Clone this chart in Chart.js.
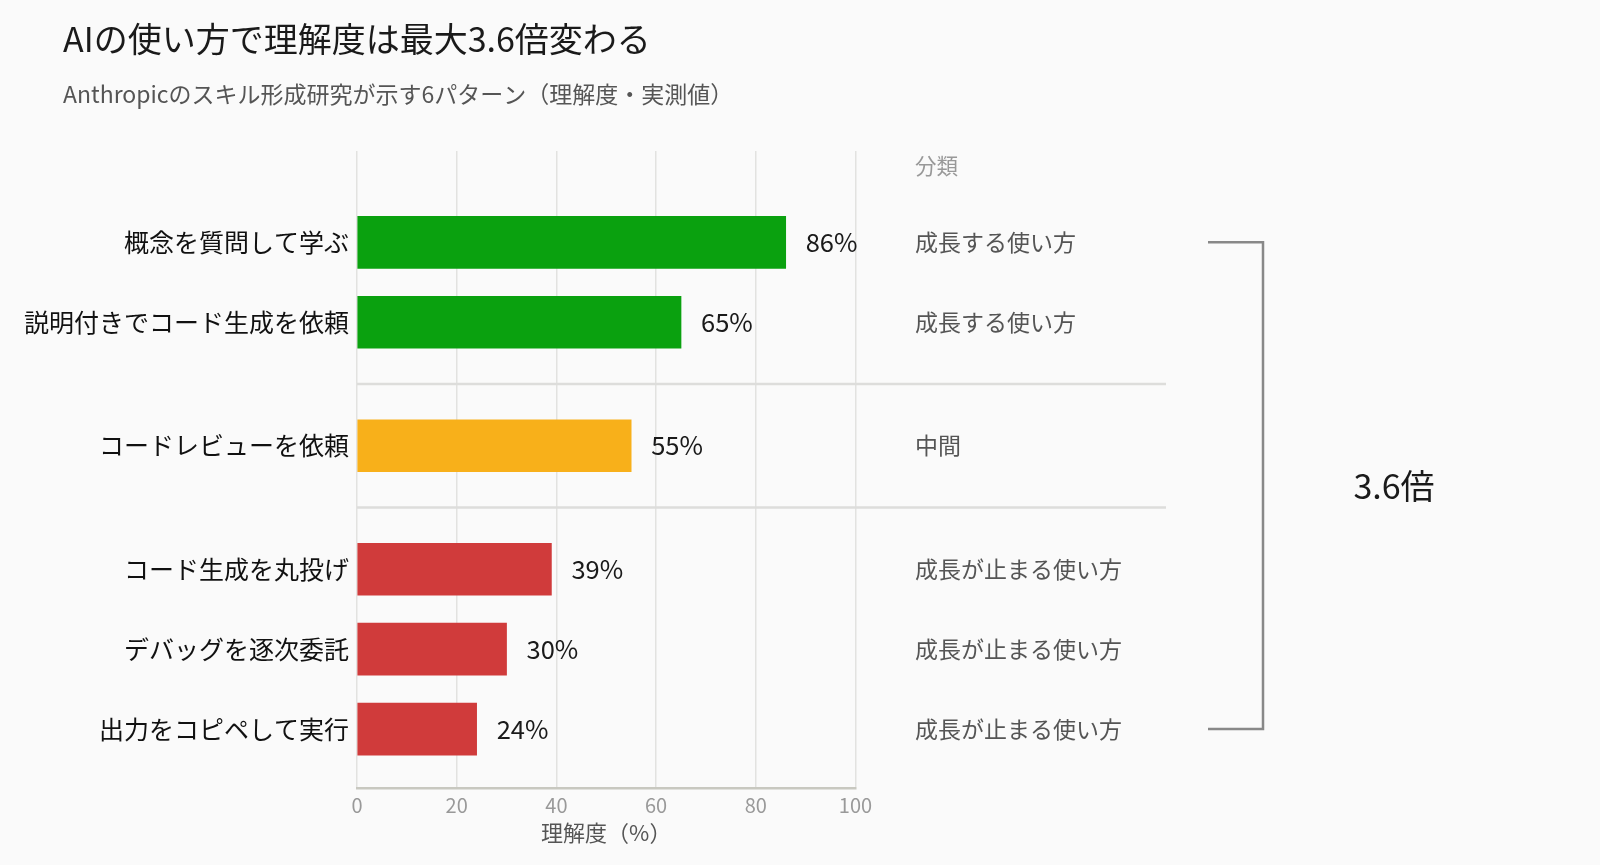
<!DOCTYPE html>
<html><head><meta charset="utf-8">
<script src="https://cdn.jsdelivr.net/npm/chart.js@4.4.1/dist/chart.umd.min.js"></script>
<style>
html,body{margin:0;padding:0;background:#fafafa;}
#wrap{position:relative;width:1600px;height:865px;}
</style></head>
<body><div id="wrap"><canvas id="c" width="1600" height="865"></canvas></div>
<script>
const TITLE = 'AIの使い方で理解度は最大3.6倍変わる';
const SUBTITLE = 'Anthropicのスキル形成研究が示す6パターン（理解度・実測値）';
const categories = ['概念を質問して学ぶ','説明付きでコード生成を依頼','コードレビューを依頼','コード生成を丸投げ','デバッグを逐次委託','出力をコピペして実行'];
const values = [86, 65, 55, 39, 30, 24];
const groups = [0, 0, 1, 2, 2, 2];
const classes = ['成長する使い方','成長する使い方','中間','成長が止まる使い方','成長が止まる使い方','成長が止まる使い方'];
const groupColors = ['#0aa10f', '#f8b01a', '#d03b3b'];
const xTicks = [0, 20, 40, 60, 80, 100];
const classHeader = '分類';
const ratioLabel = '3.6倍';
const xTitle = '理解度（%）';

const FONT = '"Noto Sans CJK JP", "Noto Sans", sans-serif';
const GAP = 0.545;
const positions = categories.map((_, i) => i + groups[i] * GAP);
const Y_MIN = -1.143;
const Y_MAX = positions[positions.length - 1] + 0.737;

const decor = {
  id: 'decor',
  afterDraw(chart) {
    const ctx = chart.ctx;
    const xs = chart.scales.x, ys = chart.scales.y;
    ctx.save();
    ctx.textAlign = 'left'; ctx.textBaseline = 'middle';
    ctx.fillStyle = '#1a1a1a';
    ctx.font = '34px ' + FONT;
    ctx.fillText(TITLE, 63, 39);
    ctx.fillStyle = '#555555';
    ctx.font = '23px ' + FONT;
    ctx.fillText(SUBTITLE, 63, 94);
    ctx.strokeStyle = '#dddddb'; ctx.lineWidth = 2.5;
    for (let i = 1; i < positions.length; i++) {
      if (groups[i] !== groups[i-1]) {
        const y = ys.getPixelForValue((positions[i] + positions[i-1]) / 2);
        ctx.beginPath(); ctx.moveTo(xs.left, y); ctx.lineTo(1166, y); ctx.stroke();
      }
    }
    const meta = chart.getDatasetMeta(0);
    ctx.fillStyle = '#1a1a1a';
    ctx.font = '25.5px ' + FONT;
    meta.data.forEach((bar, i) => {
      ctx.fillText(values[i] + '%', bar.x + 20, bar.y);
    });
    const cx = 915;
    ctx.fillStyle = '#999999';
    ctx.font = '21.5px ' + FONT;
    ctx.fillText(classHeader, cx, 166);
    ctx.fillStyle = '#555555';
    ctx.font = '23px ' + FONT;
    meta.data.forEach((bar, i) => ctx.fillText(classes[i], cx, bar.y));
    const y0 = meta.data[0].y, y1 = meta.data[meta.data.length-1].y;
    ctx.strokeStyle = '#888888'; ctx.lineWidth = 2.5;
    ctx.beginPath();
    ctx.moveTo(1208, y0); ctx.lineTo(1263, y0); ctx.lineTo(1263, y1); ctx.lineTo(1208, y1);
    ctx.stroke();
    ctx.fillStyle = '#1a1a1a';
    ctx.font = '34px ' + FONT;
    ctx.textAlign = 'center';
    ctx.fillText(ratioLabel, 1394, (y0 + y1) / 2);
    ctx.restore();
  }
};

const bg = {
  id: 'bg',
  beforeDraw(chart) {
    const ctx = chart.ctx;
    ctx.save(); ctx.fillStyle = '#fafafa'; ctx.fillRect(0, 0, chart.width, chart.height); ctx.restore();
  }
};

new Chart(document.getElementById('c'), {
  type: 'bar',
  data: {
    datasets: [{
      data: values.map((v, i) => ({ x: v, y: positions[i] })),
      backgroundColor: groups.map(g => groupColors[g]),
      borderWidth: 0,
      barThickness: 52
    }]
  },
  options: {
    indexAxis: 'y',
    responsive: false,
    animation: false,
    devicePixelRatio: 1,
    layout: { padding: { top: 151, right: 744.5, left: 0, bottom: 0 } },
    plugins: { legend: { display: false }, tooltip: { enabled: false } },
    scales: {
      x: {
        type: 'linear', min: 0, max: 100, offset: false,
        afterBuildTicks: s => { s.ticks = xTicks.map(v => ({ value: v })); },
        afterFit: s => { s.height = 77; },
        grid: { color: '#e2e2e0', lineWidth: 1.5, drawTicks: false, offset: false },
        border: { display: true, color: '#c8c8c0', width: 2.5 },
        ticks: { color: '#999999', font: { family: FONT, size: 20 }, padding: 5 },
        title: { display: true, text: xTitle, color: '#555555', font: { family: FONT, size: 22 }, padding: { top: 0, bottom: 19 } }
      },
      y: {
        type: 'linear', reverse: true, min: Y_MIN, max: Y_MAX, offset: false, bounds: 'data',
        afterDataLimits: s => { s.min = Y_MIN; s.max = Y_MAX; },
        afterBuildTicks: s => { s.min = Y_MIN; s.max = Y_MAX; s.ticks = positions.map(v => ({ value: v })); },
        afterFit: s => { s.width = 357; },
        grid: { display: false, drawTicks: false, offset: false },
        border: { display: false },
        ticks: {
          autoSkip: false,
          color: '#111111', font: { family: FONT, size: 25 }, padding: 8,
          callback: (v, i) => categories[i]
        }
      }
    }
  },
  plugins: [bg, decor]
});
</script></body></html>
